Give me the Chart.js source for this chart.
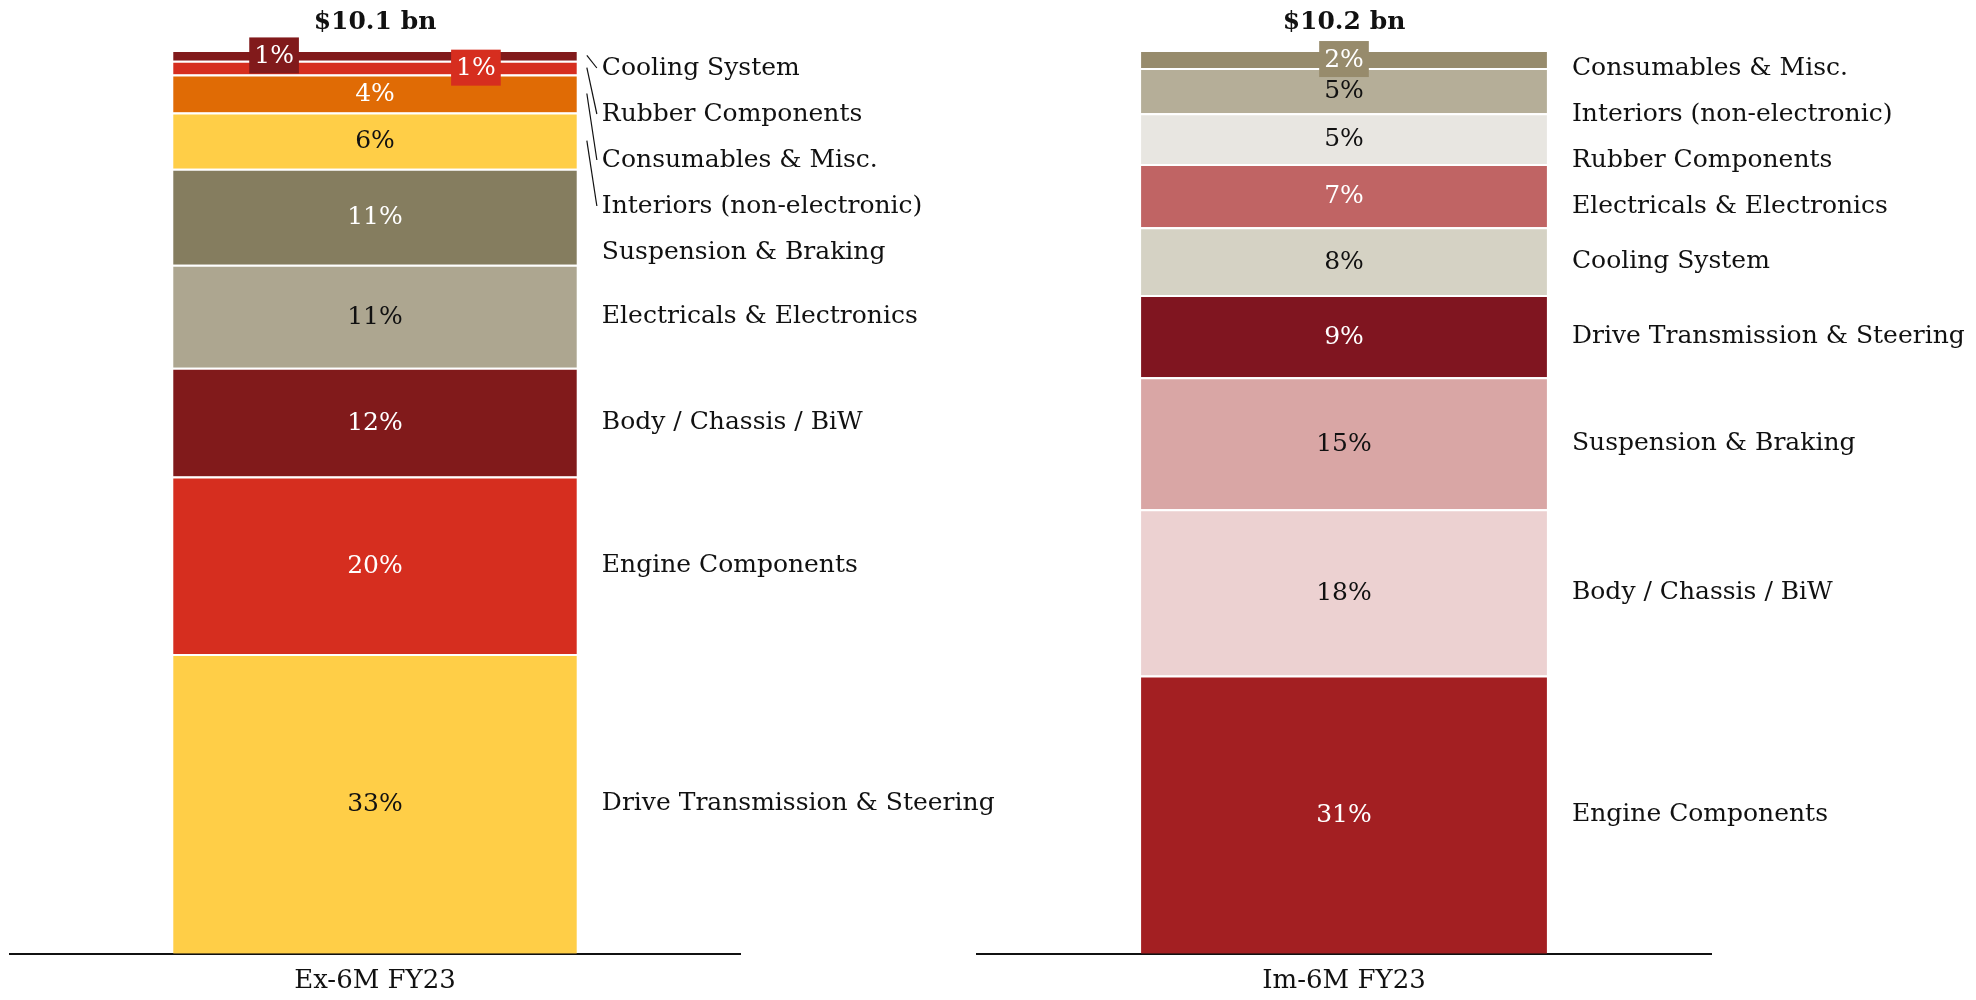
<!DOCTYPE html>
<html>
<head>
<meta charset="utf-8">
<script src="https://cdn.jsdelivr.net/npm/chart.js@4.4.0/dist/chart.umd.min.js"></script>
<style>
  html, body { margin: 0; padding: 0; background: #fff; }
  #wrap { position: relative; width: 1976px; height: 1000px; overflow: hidden; }
  canvas { position: absolute; top: 0; }
  #exCanvas { left: 0; }
  #imCanvas { left: 960px; }
</style>
</head>
<body>
<div id="wrap">
  <canvas id="exCanvas" width="1000" height="1013"></canvas>
  <canvas id="imCanvas" width="1016" height="1013"></canvas>
</div>
<script>
// Data, bottom segment first (same order Chart.js stacks them)
const exCategory = 'Ex-6M FY23';
const exTotal = '$10.1 bn';
const exParts = ['Drive Transmission & Steering', 'Engine Components', 'Body / Chassis / BiW',
  'Electricals & Electronics', 'Suspension & Braking', 'Interiors (non-electronic)',
  'Consumables & Misc.', 'Rubber Components', 'Cooling System'];
const exValues = [33.1, 19.6, 12.0, 11.4, 10.6, 6.2, 4.2, 1.5, 1.2];
const exShares = [33, 20, 12, 11, 11, 6, 4, 1, 1];

const imCategory = 'Im-6M FY23';
const imTotal = '$10.2 bn';
const imParts = ['Engine Components', 'Body / Chassis / BiW', 'Suspension & Braking',
  'Drive Transmission & Steering', 'Cooling System', 'Electricals & Electronics',
  'Rubber Components', 'Interiors (non-electronic)', 'Consumables & Misc.'];
const imValues = [30.8, 18.4, 14.6, 9.1, 7.5, 7.0, 5.6, 5.0, 2.0];
const imShares = [31, 18, 15, 9, 8, 7, 5, 5, 2];

// Colours
const exColors = ['#FFCE47', '#D62E1F', '#811A1B', '#ADA690', '#857D5F', '#FFCE47', '#E06B05', '#D62E1F', '#811A1B'];
const imColors = ['#A31F22', '#ECD1D1', '#D9A6A5', '#801520', '#D5D2C4', '#C06464', '#E8E6E1', '#B5AE98', '#978B6C'];

const SERIF = "Georgia, 'DejaVu Serif', serif";

function isDark(hex) {
    const n = parseInt(hex.slice(1), 16);
    const r = (n >> 16) & 255, g = (n >> 8) & 255, b = n & 255;
    return (0.2126 * r + 0.7152 * g + 0.0722 * b) / 255 < 0.56;
}

// Percentages inside the bar, total on top, names on the right
const segmentLabels = {
    id: 'segmentLabels',
    afterDatasetsDraw(chart, args, opts) {
        const ctx = chart.ctx;
        const sets = chart.data.datasets;
        const bars = sets.map((ds, i) => chart.getDatasetMeta(i).data[0]);
        const topBar = bars[bars.length - 1];
        ctx.save();
        ctx.textBaseline = 'middle';

        // total
        ctx.font = `bold 25px ${SERIF}`;
        ctx.fillStyle = '#111';
        ctx.textAlign = 'center';
        ctx.fillText(opts.total, topBar.x, topBar.y - 28);

        // percentages
        ctx.font = `25px ${SERIF}`;
        const nSmall = sets.filter(d => d.share < 3).length;
        let smallCount = 0;
        bars.forEach((bar, i) => {
            const ds = sets[i];
            const cy = (bar.y + bar.base) / 2;
            let cx = bar.x;
            const txt = ds.share + '%';
            if (ds.share < 3) {
                // too thin for text: put it on a tag of the same colour
                if (nSmall > 1) cx += (smallCount % 2 === 0 ? 1 : -1) * bar.width * 0.25;
                smallCount++;
                const w = ctx.measureText(txt).width + 10;
                ctx.fillStyle = ds.backgroundColor;
                ctx.fillRect(cx - w / 2, cy - 18, w, 36);
            }
            ctx.fillStyle = isDark(ds.backgroundColor) ? '#fff' : '#111';
            ctx.fillText(txt, cx, cy + 1);
        });

        // names, pushed down when crowded
        ctx.font = `25px ${SERIF}`;
        ctx.textAlign = 'left';
        let prev = -Infinity;
        for (let i = bars.length - 1; i >= 0; i--) {
            const bar = bars[i];
            const cy = (bar.y + bar.base) / 2;
            const ly = Math.max(cy, prev + 46, chart.chartArea.top + 18);
            prev = ly;
            const right = bar.x + bar.width / 2;
            if (ly > bar.base + 5 || ly < bar.y - 5) {
                ctx.strokeStyle = '#111';
                ctx.lineWidth = 1.2;
                ctx.beginPath();
                ctx.moveTo(right + 10, cy);
                ctx.lineTo(right + 20, ly);
                ctx.stroke();
            }
            ctx.fillStyle = '#111';
            ctx.fillText(sets[i].label, right + 25, ly);
        }
        ctx.restore();
    }
};

function makeChart(id, category, total, parts, values, shares, colors, padLeft, padRight) {
    const sum = values.reduce((a, b) => a + b, 0);
    return new Chart(document.getElementById(id), {
        type: 'bar',
        data: {
            labels: [category],
            datasets: parts.map((p, i) => ({
                label: p,
                data: [values[i]],
                share: shares[i],
                backgroundColor: colors[i],
                borderColor: '#fff',
                borderWidth: { top: 2, left: 0, right: 0, bottom: 0 },
                borderSkipped: 'start',
                categoryPercentage: 1,
                barPercentage: 0.553
            }))
        },
        options: {
            responsive: false,
            animation: false,
            layout: { padding: { top: 50, left: padLeft, right: padRight, bottom: 4 } },
            scales: {
                x: {
                    stacked: true,
                    grid: { display: false, drawTicks: false },
                    border: { display: true, color: '#111', width: 2 },
                    ticks: { color: '#111', padding: 12, font: { family: SERIF, size: 26 } }
                },
                y: { stacked: true, display: false, min: 0, max: sum }
            },
            plugins: {
                legend: { display: false },
                tooltip: { enabled: false },
                segmentLabels: { total: total }
            }
        },
        plugins: [segmentLabels]
    });
}

document.addEventListener('DOMContentLoaded', () => {
    makeChart('exCanvas', exCategory, exTotal, exParts, exValues, exShares, exColors, 10, 260);
    makeChart('imCanvas', imCategory, imTotal, imParts, imValues, imShares, imColors, 17, 265);
});
</script>
</body>
</html>
